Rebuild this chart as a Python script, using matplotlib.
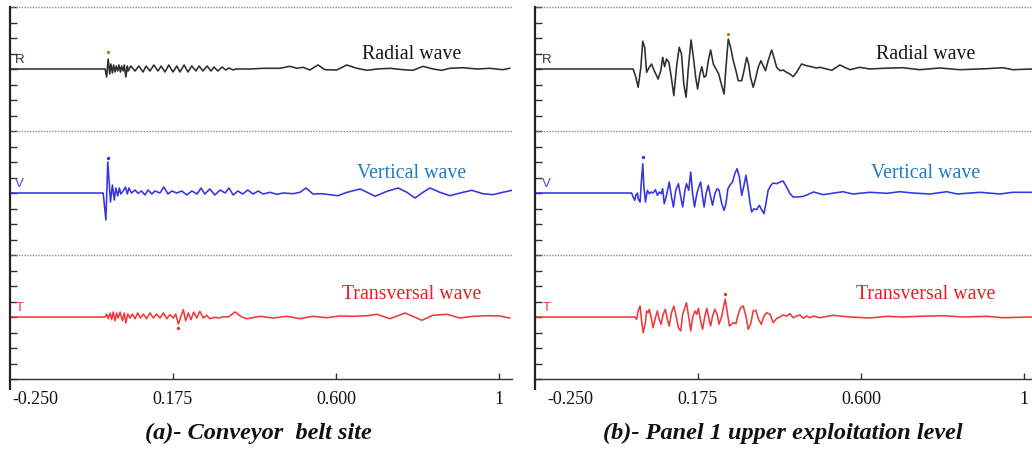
import numpy as np
import matplotlib
matplotlib.use("Agg")
import matplotlib.pyplot as plt

plt.rcParams['font.family'] = ['Liberation Serif', 'DejaVu Serif']

# ---------------- data: (time [s], amplitude [arbitrary units]) ----------------
# (a) Conveyor belt site
a_R = [(-0.250, 0), (-0.002, 0), (0.002, -8), (0.006, 10), (0.010, -5), (0.013, 5), (0.017, -4),
       (0.020, 4), (0.024, -3), (0.027, 3), (0.031, -2), (0.034, 4), (0.038, -3), (0.041, 3),
       (0.045, -2), (0.048, 4), (0.052, -8), (0.056, 3), (0.058, -2), (0.065, 3), (0.076, -2),
       (0.086, 3), (0.097, -3), (0.105, 3), (0.115, -2), (0.125, 4), (0.136, -2), (0.144, 3),
       (0.154, -3), (0.164, 4), (0.175, -3), (0.185, 3), (0.193, -3), (0.204, 4), (0.214, -3),
       (0.224, 3), (0.235, -2), (0.243, 3), (0.253, -2), (0.264, 3), (0.274, -2), (0.282, 2),
       (0.292, -2), (0.303, 2), (0.313, -1), (0.321, 1), (0.332, -1), (0.339, 0), (0.376, 0),
       (0.410, 0.7), (0.454, 0.7), (0.480, 2.7), (0.498, 0.7), (0.514, 1.7), (0.532, -1),
       (0.553, 4), (0.571, -0.7), (0.602, -1), (0.628, 4), (0.655, 0.7), (0.681, -1.3),
       (0.707, 0), (0.741, 0.7), (0.775, -0.7), (0.801, -1.3), (0.827, 2.7), (0.853, 0),
       (0.876, -1.3), (0.897, 0.7), (0.931, 1.3), (0.968, 0), (1.001, 0.7), (1.035, -0.7),
       (1.053, 0.7)]
a_V = [(-0.250, 0), (-0.007, 0), (0.000, -27), (0.005, 31), (0.012, -9), (0.017, 8), (0.022, -7),
       (0.026, 5), (0.031, -3), (0.035, 5), (0.039, -1), (0.045, 2), (0.051, 6), (0.056, -1),
       (0.060, 5), (0.067, 0), (0.076, 3), (0.084, -0.3), (0.093, 2), (0.102, -2), (0.110, 3),
       (0.120, -1), (0.128, 2), (0.141, 0), (0.151, 6), (0.162, -1), (0.172, 2), (0.185, 0),
       (0.198, 2), (0.211, -2), (0.224, 2), (0.238, -1), (0.248, 5), (0.258, -1), (0.271, 4),
       (0.284, -2), (0.298, 3), (0.311, 0), (0.321, 5), (0.332, -2), (0.344, 2), (0.357, -1),
       (0.370, 3), (0.384, -1), (0.397, 2), (0.410, -1), (0.428, 0.7), (0.446, -1.3), (0.462, 0),
       (0.488, -0.7), (0.506, 0.7), (0.522, 5), (0.540, -1), (0.563, -0.7), (0.584, -1.7),
       (0.605, -2.7), (0.629, 0.7), (0.663, 4), (0.681, 0.7), (0.702, -3.3), (0.733, 1.7),
       (0.762, 5), (0.785, 0.7), (0.806, -5), (0.827, 0.7), (0.845, 5), (0.871, 0.7),
       (0.897, -2.7), (0.931, 0.7), (0.954, 2.7), (0.983, -0.7), (1.009, -1.7), (1.035, 0.7),
       (1.059, 2.7)]
a_T = [(-0.250, 0), (-0.002, 0), (0.002, 3), (0.006, -1.7), (0.011, 4), (0.015, -2.7), (0.019, 5),
       (0.024, -3.7), (0.028, 4), (0.032, -1), (0.037, 5), (0.043, -3.7), (0.048, 4), (0.052, -6),
       (0.057, 3), (0.063, -1), (0.069, 3), (0.076, -1.7), (0.083, 4), (0.090, -1), (0.098, 3),
       (0.106, -1.7), (0.115, 4), (0.124, -1), (0.132, 3), (0.141, -1), (0.150, 4), (0.159, -1.7),
       (0.167, 2.3), (0.176, -1), (0.182, 3), (0.189, -7), (0.196, 0.7), (0.202, 7.3),
       (0.208, -3.7), (0.215, 4), (0.222, -2.7), (0.229, 5), (0.237, -1), (0.245, 5.7),
       (0.254, -1), (0.263, 1.7), (0.271, -1.7), (0.284, -0.3), (0.295, -1), (0.306, 0.3),
       (0.319, 0), (0.337, 5), (0.354, 0), (0.368, -1.7), (0.389, -0.3), (0.402, 0.7),
       (0.436, -1), (0.472, 0.7), (0.506, -1.7), (0.540, 0.7), (0.576, -0.7), (0.610, 1),
       (0.644, 0.7), (0.681, 1.3), (0.707, 2.7), (0.741, -1.7), (0.780, 4), (0.824, -3.3),
       (0.853, 1.7), (0.889, 2.7), (0.923, -1), (0.957, 0.7), (0.994, 1.3), (1.028, 1),
       (1.053, -1)]

# (b) Panel 1 upper exploitation level
b_R = [(-0.250, 0), (0.006, 0), (0.013, -8.3), (0.019, -18.3), (0.026, 1.7), (0.031, 27.7),
       (0.036, 21.7), (0.041, -3.3), (0.048, 1.7), (0.054, 5), (0.060, -1), (0.065, -5),
       (0.071, -10), (0.078, -1.7), (0.083, 11.7), (0.088, 2.3), (0.093, 10), (0.099, 6.7),
       (0.102, 0), (0.106, -10), (0.112, -26.7), (0.119, 1.7), (0.126, 21.7), (0.132, 15),
       (0.138, -15), (0.144, -28.3), (0.150, 1.7), (0.157, 29), (0.163, 11.7), (0.169, -8.3),
       (0.174, -20), (0.180, -5), (0.185, 2.3), (0.191, -8.3), (0.196, -6.7), (0.202, 8.3),
       (0.208, 19), (0.215, 5), (0.222, 0), (0.229, -5), (0.237, -16.7), (0.243, -25),
       (0.248, 1.7), (0.254, 30), (0.260, 21.7), (0.267, 8.3), (0.274, -1.7), (0.280, -11.7),
       (0.289, -11.7), (0.295, -1.7), (0.302, 11.7), (0.307, 5), (0.312, -8.3), (0.319, -18.3),
       (0.326, -8.3), (0.332, 1.7), (0.339, 8.3), (0.345, 3.3), (0.351, -1.7), (0.358, 8.3),
       (0.367, 19), (0.373, 11.7), (0.380, 1.7), (0.389, -1.7), (0.397, -1), (0.406, -3.3),
       (0.415, -5), (0.423, -7.7), (0.432, -3.3), (0.445, 5), (0.458, 3.3), (0.471, 2.3),
       (0.484, 1), (0.493, 1.7), (0.524, -1.3), (0.545, 4), (0.571, -0.7), (0.597, 1.7),
       (0.623, 0), (0.657, 0.7), (0.709, 1.3), (0.753, -0.7), (0.806, 1), (0.858, -0.7),
       (0.928, 0.3), (0.970, 1.3), (0.996, -0.7), (1.046, 0)]
b_V = [(-0.250, 0), (0.002, 0), (0.006, -4), (0.010, -7.3), (0.013, -2.3), (0.017, 0),
       (0.019, -5.7), (0.024, -9), (0.027, 9.3), (0.031, 29.3), (0.034, 6), (0.038, -9),
       (0.043, 2.7), (0.048, -0.7), (0.053, 1), (0.058, 0), (0.064, 3.3), (0.069, -2.3),
       (0.074, 1), (0.079, -0.7), (0.083, 4.3), (0.087, -10.7), (0.093, -2.3), (0.100, 11),
       (0.106, -4), (0.111, -14), (0.117, 2.7), (0.124, 9.3), (0.130, -4), (0.135, -14),
       (0.141, 2.7), (0.145, 9.3), (0.151, 2.7), (0.156, 21), (0.161, -0.7), (0.166, -14),
       (0.172, -0.7), (0.177, 6), (0.182, 11), (0.187, -4), (0.191, -14), (0.196, -0.7),
       (0.202, 7.7), (0.208, -4), (0.213, -12.3), (0.219, -0.7), (0.225, 4.3), (0.230, 2.7),
       (0.237, -10.7), (0.243, -17.3), (0.248, -10.7), (0.253, 4.3), (0.258, 7.7), (0.265, 11),
       (0.271, 19.3), (0.277, 24.3), (0.283, 16), (0.289, -2.3), (0.295, 7.7), (0.300, 17.7),
       (0.305, 6), (0.311, -10.7), (0.315, -19), (0.321, -15.7), (0.328, -16.7), (0.335, -12.3),
       (0.342, -17.3), (0.347, -20.7), (0.352, -10.7), (0.358, 2.7), (0.365, 7.7), (0.371, 10),
       (0.380, 9.3), (0.389, 11), (0.397, 12), (0.406, 6), (0.415, -0.7), (0.423, -4),
       (0.436, -4), (0.450, -3.3), (0.463, -1.3), (0.476, 1), (0.486, 0), (0.501, -1.7),
       (0.553, 1.3), (0.579, -1), (0.623, 0.7), (0.668, -0.3), (0.701, 1.3), (0.735, 0),
       (0.780, -1), (0.824, 1.3), (0.851, -1), (0.911, 0.7), (0.962, -1), (0.996, 0.7),
       (1.046, 0.7)]
b_T = [(-0.250, 0), (0.011, 0), (0.015, -2.3), (0.019, 6), (0.024, 11), (0.028, -4), (0.032, -15.7),
       (0.038, -5.7), (0.041, 6), (0.045, 4.3), (0.048, 7.7), (0.053, -0.7), (0.058, -10.7),
       (0.064, -0.7), (0.069, 6), (0.074, -2.3), (0.079, -7.3), (0.084, 2.7), (0.090, 7.7),
       (0.095, -2.3), (0.100, -9), (0.106, 4.3), (0.112, 11), (0.118, 1), (0.124, -10.7),
       (0.130, -14), (0.135, 2.7), (0.141, 9.3), (0.145, 14.3), (0.151, -0.7), (0.156, -14),
       (0.161, -0.7), (0.167, 6), (0.172, 2.7), (0.176, 8.7), (0.182, -4), (0.187, -12.3),
       (0.193, 1), (0.198, 8.7), (0.203, -0.7), (0.208, -9), (0.213, 1), (0.219, 7.7),
       (0.225, 2.7), (0.230, -7.3), (0.237, 1), (0.243, 12.7), (0.246, 17.7), (0.251, 6),
       (0.257, -9), (0.262, -7.3), (0.267, -5.7), (0.274, -6.7), (0.280, 2.7), (0.286, 9.3),
       (0.293, 11), (0.300, 1), (0.306, -12.3), (0.312, -7.3), (0.319, 6), (0.326, 6.7),
       (0.333, -2.3), (0.340, -7.3), (0.347, 1), (0.354, 4.3), (0.363, 2.7), (0.371, -5.7),
       (0.380, -1.3), (0.389, 0), (0.397, 2), (0.406, 1), (0.415, 3.3), (0.423, -0.7),
       (0.432, 1), (0.441, 2), (0.450, -1.3), (0.458, 1), (0.467, -0.7), (0.476, 1),
       (0.493, -0.7), (0.527, 1.7), (0.571, 0), (0.623, -1), (0.668, 0.7), (0.709, 0),
       (0.753, 0.7), (0.813, 1.3), (0.866, 0), (0.928, 0.7), (0.970, -0.7), (1.046, 0)]

# picked-peak markers (time, amplitude of the marker dot)
a_marks = {'R': (0.006, 17), 'V': (0.005, 35), 'T': (0.189, -11)}
b_marks = {'R': (0.254, 35), 'V': (0.031, 36), 'T': (0.246, 23)}

xtick_vals = [0.175, 0.600, 1.025]
xtick_labels = ['0.175', '0.600', '1']
first_label = '-0.250'
titles = ['(a)- Conveyor  belt site', '(b)- Panel 1 upper exploitation level']
wave_names = {'R': 'Radial wave', 'V': 'Vertical wave', 'T': 'Transversal wave'}

# ---------------- styling / layout ----------------
baseline = {'R': 310, 'V': 186, 'T': 62}
trace_col = {'R': '#2e2e2e', 'V': '#3434e4', 'T': '#f03a3a'}
mark_col = {'R': '#c8731e', 'V': '#2f2fd8', 'T': '#e83030'}
name_col = {'R': '#151515', 'V': '#1f7bc6', 'T': '#ec1c24'}
chan_col = {'R': '#4a2c2c', 'V': '#4848e0', 'T': '#e83a3a'}
name_dy = {'R': 10, 'V': 15, 'T': 18}

W, H = 1032, 449
fig = plt.figure(figsize=(W / 100, H / 100), dpi=100)
fig.patch.set_facecolor('white')

panels = [
    dict(rect=[10 / W, 70 / H, 502 / W, 372 / H], xmax=1.059, data={'R': a_R, 'V': a_V, 'T': a_T},
         marks=a_marks, name_x=0.798, chan_x=-0.236, first_x=-0.243, title_x=258 / W),
    dict(rect=[535 / W, 70 / H, 497 / W, 372 / H], xmax=1.046, data={'R': b_R, 'V': b_V, 'T': b_T},
         marks=b_marks, name_x=0.769, chan_x=-0.231, first_x=-0.219, title_x=783 / W),
]

for i, p in enumerate(panels):
    ax = fig.add_axes(p['rect'])
    ax.set_xlim(-0.25, p['xmax'])
    ax.set_ylim(0, 372)
    ax.patch.set_alpha(0)
    for s in ['top', 'right']:
        ax.spines[s].set_visible(False)
    ax.spines['left'].set_linewidth(1.6)
    ax.spines['left'].set_color('#222222')
    ax.spines['bottom'].set_linewidth(1.0)
    ax.spines['bottom'].set_color('#333333')
    # extension of left axis below the time axis
    ax.plot([-0.25, -0.25], [0, -11], color='#222222', lw=1.6, clip_on=False, solid_capstyle='butt')

    ax.set_yticks(np.arange(0, 372.1, 15.5))
    ax.tick_params(axis='y', direction='in', length=5, width=1, color='#333333', labelleft=False)
    ax.set_xticks(xtick_vals)
    ax.set_xticklabels(xtick_labels)
    ax.tick_params(axis='x', direction='in', length=4, width=1, color='#333333', pad=9,
                   labelsize=13, labelcolor='#111111')
    ax.annotate(first_label, xy=(p['first_x'], 0), xycoords=('data', 'axes fraction'),
                xytext=(0, -9), textcoords='offset points', ha='left', va='top',
                fontsize=13, color='#111111', annotation_clip=False)

    for yb in [124, 248, 372]:
        ax.axhline(yb, color='#8a8a8a', lw=1.0, ls=(0, (1, 1)), clip_on=False)

    for c in ['R', 'V', 'T']:
        t, amp = zip(*p['data'][c])
        ax.plot(t, baseline[c] + np.array(amp), color=trace_col[c], lw=1.15,
                solid_joinstyle='round')
        mt, ma = p['marks'][c]
        ax.plot([mt], [baseline[c] + ma], 'o', ms=2.4, color=mark_col[c], mec='none')
        ax.text(p['name_x'], baseline[c] + name_dy[c], wave_names[c], ha='center', va='baseline',
                fontsize=14.3, color=name_col[c])
        ax.text(p['chan_x'], baseline[c] + 3, c, ha='left', va='bottom', fontsize=9.5,
                color=chan_col[c], family=['Liberation Sans', 'DejaVu Sans'])

    fig.text(p['title_x'], 16 / H, titles[i], ha='center', va='center', fontsize=17.5,
             fontweight='bold', fontstyle='italic', color='#111111')

fig.savefig('out.png', dpi=100, facecolor='white')
